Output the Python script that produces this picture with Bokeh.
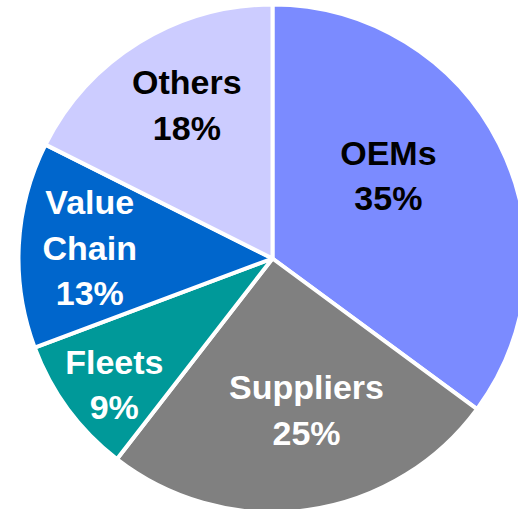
import math
from bokeh.plotting import figure
from bokeh.models import Range1d, ColumnDataSource
from bokeh.core.properties import value
from bokeh.embed import file_html
from bokeh.resources import INLINE

categories = ["OEMs", "Suppliers", "Fleets", "Value\nChain", "Others"]
shares = [35.1, 25.4, 8.8, 13.1, 17.6]          # slice sizes
share_labels = ["35%", "25%", "9%", "13%", "18%"]  # as printed on the chart
colors = ["#7B8BFF", "#808080", "#009999", "#0066CC", "#CCCCFF"]
text_colors = ["#000000", "#FFFFFF", "#FFFFFF", "#FFFFFF", "#000000"]

# layout (screen pixels, y down mapped to negative data y)
cx, cy, R = 272, -258, 254
label_r = [142, 156, 203, 183, 175]
label_ang = [35.3, -77.4, -141.2, 176.9, 119.3]

total = sum(shares)
starts, ends, cum = [], [], 0.0
for s in shares:
    starts.append(90 - cum / total * 360)
    cum += s
    ends.append(90 - cum / total * 360)

src = ColumnDataSource(dict(cat=categories, start=starts, end=ends, color=colors))

p = figure(width=518, height=509, output_backend="svg", toolbar_location=None,
           x_range=Range1d(0, 518), y_range=Range1d(-509, 0), min_border=0)
p.axis.visible = False
p.grid.visible = False
p.outline_line_color = None

p.wedge(x=cx, y=cy, radius=R, start_angle="start", end_angle="end",
        start_angle_units="deg", end_angle_units="deg", direction="clock",
        fill_color="color", line_color="white", line_width=4, source=src)

lx = [cx + r * math.cos(math.radians(a)) for r, a in zip(label_r, label_ang)]
ly = [cy + 1 + r * math.sin(math.radians(a)) for r, a in zip(label_r, label_ang)]
labels = [f"{c}\n{s}" for c, s in zip(categories, share_labels)]
lsrc = ColumnDataSource(dict(x=lx, y=ly, t=labels, c=text_colors))
p.text(x="x", y="y", text="t", text_color="c", source=lsrc,
       text_font=value("Liberation Sans"), text_font_style="bold",
       text_font_size="34px", text_align="center", text_baseline="middle",
       text_line_height=1.2)

open("out.html", "w").write(file_html(p, INLINE))
